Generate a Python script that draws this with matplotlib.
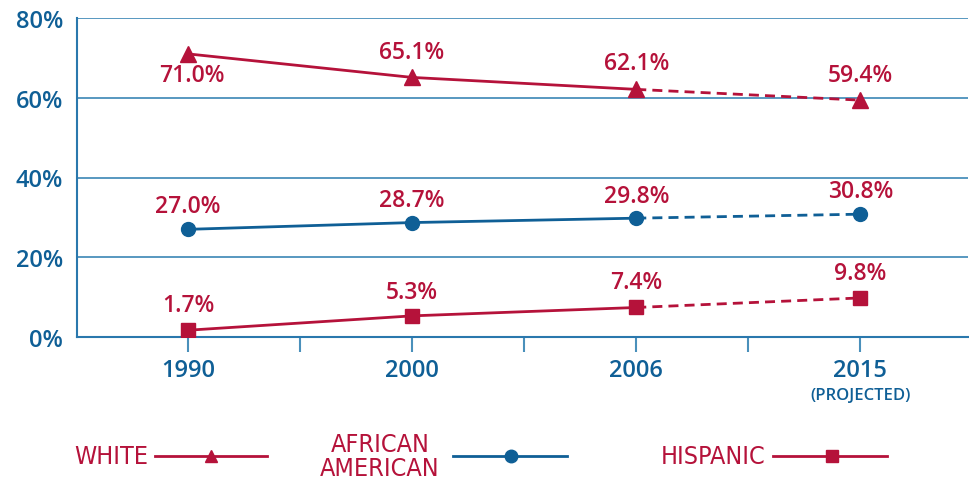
import matplotlib.pyplot as plt
from matplotlib.lines import Line2D

# share of population by group, percent
years = ['1990', '2000', '2006', '2015']
white = [71.0, 65.1, 62.1, 59.4]
african_american = [27.0, 28.7, 29.8, 30.8]
hispanic = [1.7, 5.3, 7.4, 9.8]
y_ticks = [0, 20, 40, 60, 80]

RED = '#b5123a'
BLUE = '#0f5f96'
GRID = '#4a90bb'
FONT = ['Open Sans', 'DejaVu Sans']

plt.rcParams['font.family'] = FONT

fig = plt.figure(figsize=(9.7, 4.81), dpi=100)
ax = fig.add_axes([77 / 970, 1 - 338 / 481, (968 - 77) / 970, (338 - 19) / 481])

x = list(range(len(years)))

def draw_series(values, color, marker, ms, label_offsets):
    # solid for measured years, dashed towards the projection
    ax.plot(x[:3], values[:3], color=color, lw=2, solid_capstyle='butt', zorder=3)
    ax.plot(x[2:], values[2:], color=color, lw=2, ls=(0, (3.6, 2.2)), zorder=3)
    ax.plot(x, values, ls='none', marker=marker, ms=ms, color=color, zorder=4)
    for xi, v, off in zip(x, values, label_offsets):
        ax.annotate(f'{v:.1f}%', (xi, v), xytext=(3 if off < 0 else 0, off),
                    textcoords='offset points', ha='center', va='center',
                    color=RED, fontsize=16.5, fontweight='semibold', zorder=5)

draw_series(white, RED, '^', 11, [-15, 18, 19, 18])
draw_series(african_american, BLUE, 'o', 10, [17, 16, 16, 17])
draw_series(hispanic, RED, 's', 10, [18, 17, 18, 18])

ax.set_ylim(0, 80)
ax.set_xlim(-0.495, 3.48)
ax.set_yticks(y_ticks)
ax.set_yticklabels([f'{t}%' for t in y_ticks], color=BLUE, fontsize=17, fontweight='semibold')
ax.grid(axis='y', color=GRID, lw=1.3)
ax.set_axisbelow(True)
ax.tick_params(axis='y', length=0, pad=10)

ax.set_xticks(x)
ax.set_xticks([0.5, 1.5, 2.5], minor=True)
ax.set_xticklabels(years, color=BLUE, fontsize=17, fontweight='semibold')
ax.tick_params(axis='x', which='both', direction='out', length=11, width=1.5,
               color=GRID, pad=4)
ax.text(3, -0.183, '(PROJECTED)', transform=ax.get_xaxis_transform(), ha='center',
        va='center', color=BLUE, fontsize=12, fontweight='semibold')

for side in ['top', 'right']:
    ax.spines[side].set_visible(False)
for side in ['left', 'bottom']:
    ax.spines[side].set_color('#2a78ad')
    ax.spines[side].set_linewidth(1.5)

# hand-placed legend row under the chart
def fx(px):
    return px / 970

def fy(py):
    return 1 - py / 481

leg_y = fy(457)
legend_text = ['WHITE', 'AFRICAN\nAMERICAN', 'HISPANIC']
legend_colors = [RED, BLUE, RED]
legend_markers = ['^', 'o', 's']
text_x = [148, 380, 766]
line_x = [(155, 267, 211), (453, 567, 511), (773, 887, 832)]
for text, tx, lc, mk, (x0, x1, xm) in zip(legend_text, text_x, legend_colors,
                                          legend_markers, line_x):
    fig.text(fx(tx), leg_y, text, ha='center' if '\n' in text else 'right',
             va='center', color=RED, fontsize=18, family='DejaVu Sans',
             fontstretch='condensed', linespacing=1.05)
    fig.add_artist(Line2D([fx(x0), fx(x1)], [leg_y, leg_y], color=lc, lw=2,
                          transform=fig.transFigure))
    fig.add_artist(Line2D([fx(xm)], [leg_y], color=lc, marker=mk, ms=9,
                          transform=fig.transFigure))

fig.savefig('out.png', dpi=100)
